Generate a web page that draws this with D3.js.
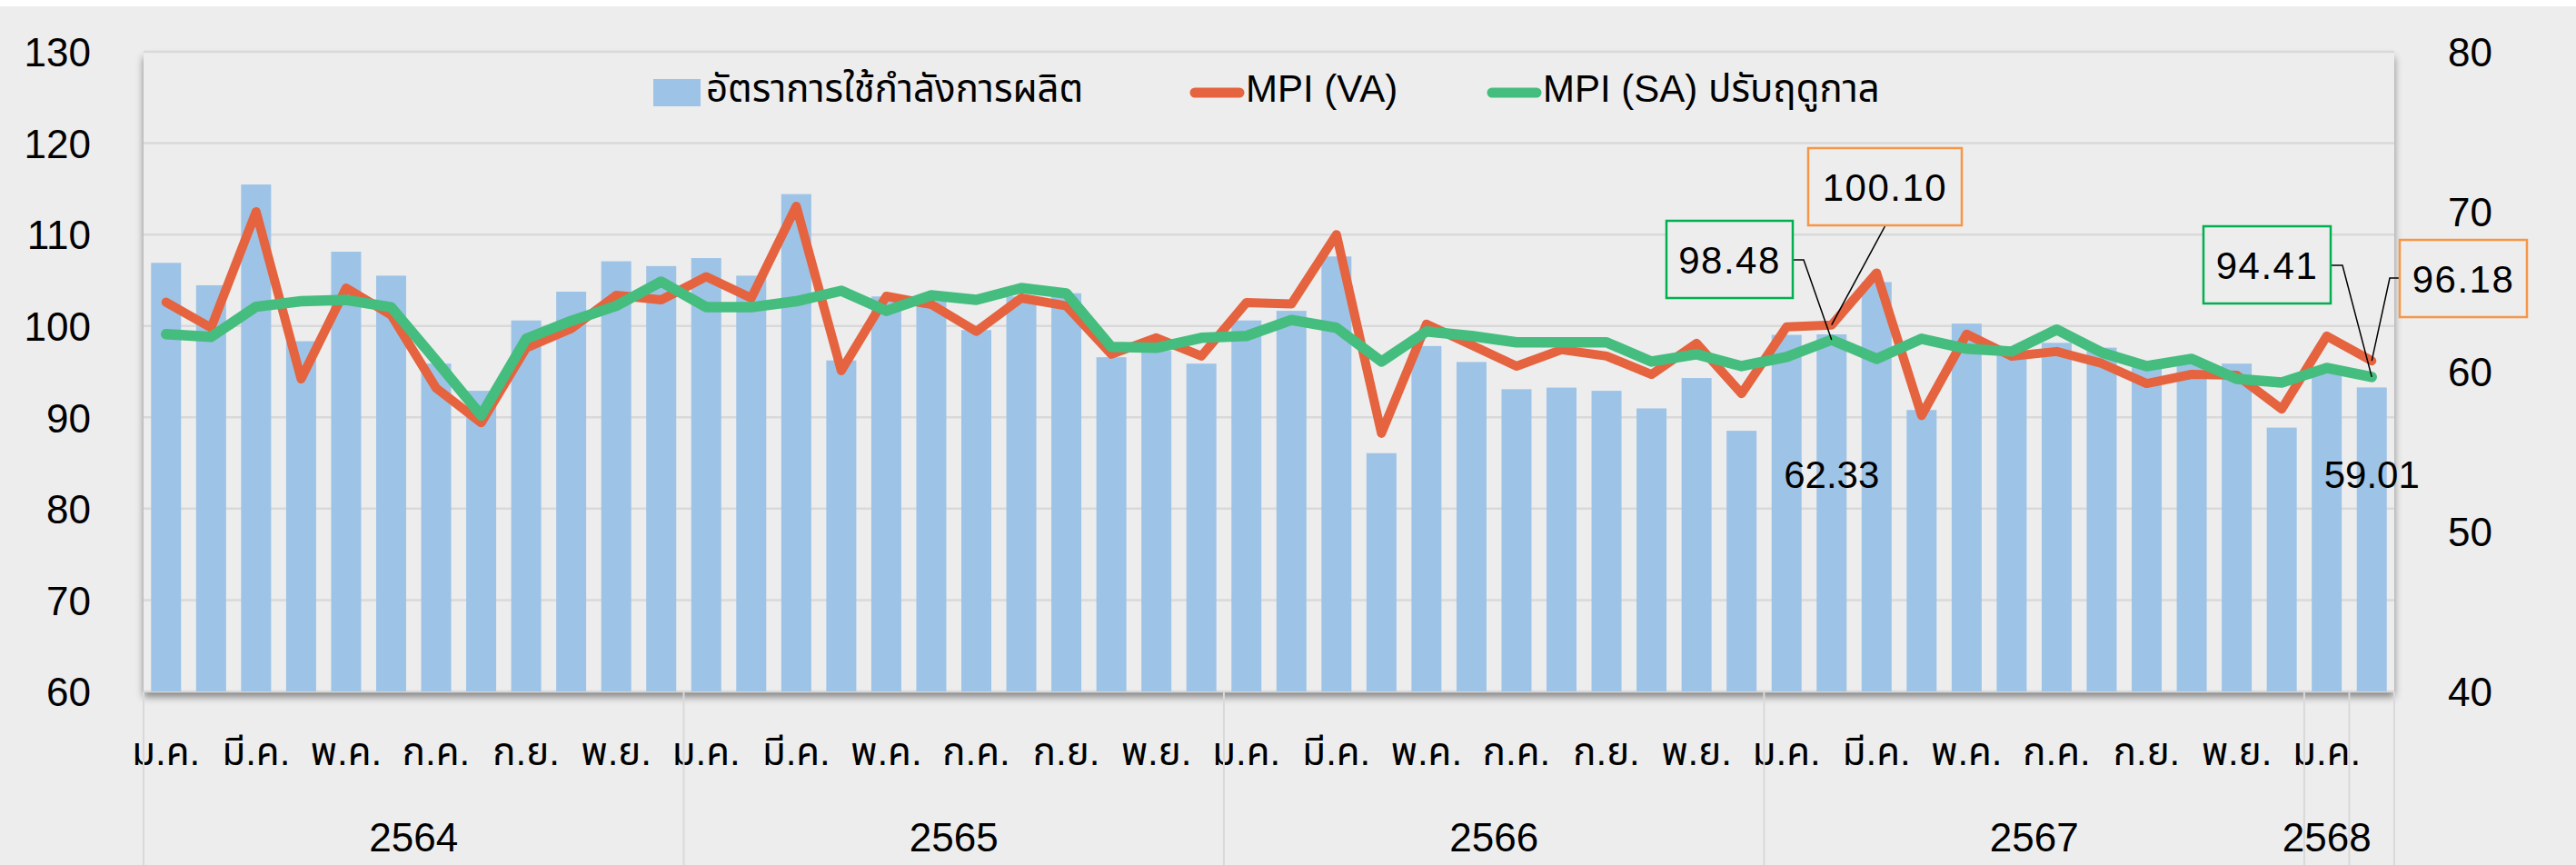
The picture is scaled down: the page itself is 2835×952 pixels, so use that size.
<!DOCTYPE html>
<html>
<head>
<meta charset="utf-8">
<script src="https://cdn.jsdelivr.net/npm/d3@7"></script>
<style>
  body { margin: 0; background: #ffffff; }
  svg text { font-family: "Liberation Sans", "Noto Sans Thai", "Noto Sans", sans-serif; fill: #000; }
</style>
</head>
<body>
<svg id="chart"></svg>
<script>
// month abbreviations (Thai) - only every other one is printed on the axis
const monthNames = ['ม.ค.','ก.พ.','มี.ค.','เม.ย.','พ.ค.','มิ.ย.','ก.ค.','ส.ค.','ก.ย.','ต.ค.','พ.ย.','ธ.ค.'];
const years = ['2564','2565','2566','2567','2568',''];
const yearCounts = [12, 12, 12, 12, 1, 1];

// อัตราการใช้กำลังการผลิต (right axis)
const capacity = [66.8, 65.4, 71.7, 61.9, 67.5, 66.0, 60.5, 58.8, 63.2, 65.0, 66.9, 66.6,
                  67.1, 66.0, 71.1, 60.7, 64.7, 64.4, 62.6, 64.7, 64.9, 60.9, 61.3, 60.5,
                  63.2, 63.8, 67.2, 54.9, 61.6, 60.6, 58.9, 59.0, 58.8, 57.7, 59.6, 56.3,
                  62.3, 62.33, 65.6, 57.6, 63.0, 61.2, 61.8, 61.5, 60.6, 60.7, 60.5, 56.5,
                  60.3, 59.01];
// MPI (VA) (left axis)
const mpiVA = [102.6, 99.8, 112.5, 94.2, 104.15, 101.2, 93.2, 89.4, 97.6, 99.7, 103.35, 102.85,
               105.4, 103.05, 113.1, 95.1, 103.25, 102.35, 99.4, 103.05, 102.2, 96.9, 98.7, 96.7,
               102.55, 102.4, 110.0, 88.25, 100.2, 97.9, 95.6, 97.4, 96.7, 94.7, 98.1, 92.6,
               99.9, 100.10, 105.8, 90.2, 99.1, 96.7, 97.2, 95.9, 93.7, 94.7, 94.6, 90.9,
               98.9, 96.18];
// MPI (SA) ปรับฤดูกาล (left axis)
const mpiSA = [99.1, 98.8, 102.1, 102.7, 102.85, 102.05, 96.2, 90.2, 98.6, 100.55, 102.2, 104.85,
               102.05, 102.05, 102.7, 103.85, 101.65, 103.35, 102.85, 104.15, 103.55, 97.7, 97.6, 98.7,
               98.9, 100.65, 99.8, 96.1, 99.4, 98.9, 98.2, 98.2, 98.2, 96.1, 96.9, 95.6,
               96.6, 98.48, 96.4, 98.6, 97.5, 97.2, 99.6, 97.1, 95.6, 96.4, 94.2, 93.8,
               95.4, 94.41];

const leftTicks = [60, 70, 80, 90, 100, 110, 120, 130];
const rightTicks = [40, 50, 60, 70, 80];

class mpiChart {
    constructor(_config) {
        this.config = {
            parentElement: _config.parentElement,
            containerWidth: _config.containerWidth || 2835,
            containerHeight: _config.containerHeight || 952,
            margin: _config.margin || {top: 57, right: 200, bottom: 191, left: 158}
        };
        this.initVis();
    }

    initVis() {
        let vis = this;
        vis.width = vis.config.containerWidth - vis.config.margin.left - vis.config.margin.right;
        vis.height = vis.config.containerHeight - vis.config.margin.top - vis.config.margin.bottom;

        vis.svg = d3.select(vis.config.parentElement)
            .attr('width', vis.config.containerWidth)
            .attr('height', vis.config.containerHeight);

        // chart background
        vis.svg.append('rect')
            .attr('x', 0).attr('y', 7)
            .attr('width', vis.config.containerWidth)
            .attr('height', vis.config.containerHeight - 7)
            .attr('fill', '#ededed');

        const defs = vis.svg.append('defs');
        const f = defs.append('filter').attr('id', 'plotShadow')
            .attr('x', '-5%').attr('y', '-5%').attr('width', '110%').attr('height', '115%');
        f.append('feDropShadow')
            .attr('dx', 0).attr('dy', 6).attr('stdDeviation', 4)
            .attr('flood-color', '#000').attr('flood-opacity', 0.45);

        vis.chart = vis.svg.append('g')
            .attr('transform', `translate(${vis.config.margin.left},${vis.config.margin.top})`);

        vis.xScale = d3.scaleBand()
            .domain(d3.range(capacity.length))
            .range([0, vis.width])
            .paddingInner(0.334)
            .paddingOuter(0.167);

        vis.yLeft = d3.scaleLinear().domain([60, 130]).range([vis.height, 0]);
        vis.yRight = d3.scaleLinear().domain([40, 80]).range([vis.height, 0]);
    }

    renderVis() {
        let vis = this;
        const h = vis.height, w = vis.width;

        // plot area with shadow
        vis.chart.append('rect')
            .attr('width', w).attr('height', h)
            .attr('fill', '#ededed')
            .attr('filter', 'url(#plotShadow)');

        // gridlines
        vis.chart.append('g')
            .selectAll('line')
            .data(leftTicks)
            .join('line')
            .attr('x1', 0).attr('x2', w)
            .attr('y1', d => vis.yLeft(d)).attr('y2', d => vis.yLeft(d))
            .attr('stroke', '#d9d9d9')
            .attr('stroke-width', 2.5);

        // bars
        vis.chart.append('g')
            .selectAll('rect')
            .data(capacity)
            .join('rect')
            .attr('x', (d, i) => vis.xScale(i))
            .attr('width', vis.xScale.bandwidth())
            .attr('y', d => vis.yRight(d))
            .attr('height', d => h - vis.yRight(d))
            .attr('fill', '#9dc3e6');

        const cx = i => vis.xScale(i) + vis.xScale.bandwidth() / 2;

        const lineGen = d3.line().x((d, i) => cx(i)).y(d => vis.yLeft(d));
        vis.chart.append('path')
            .datum(mpiVA)
            .attr('d', lineGen)
            .attr('fill', 'none')
            .attr('stroke', '#e5633f')
            .attr('stroke-width', 10)
            .attr('stroke-linejoin', 'round')
            .attr('stroke-linecap', 'round');

        vis.chart.append('path')
            .datum(mpiSA)
            .attr('d', lineGen)
            .attr('fill', 'none')
            .attr('stroke', '#45bd7e')
            .attr('stroke-width', 11.5)
            .attr('stroke-linejoin', 'round')
            .attr('stroke-linecap', 'round');

        // left axis
        const leftAxis = d3.axisLeft(vis.yLeft).tickValues(leftTicks).tickSize(0).tickPadding(58);
        vis.chart.append('g').call(leftAxis)
            .call(g => g.select('.domain').remove())
            .selectAll('text')
            .attr('font-size', 44)
            .attr('dy', '0.36em')
            .style('font-family', '"Liberation Sans", sans-serif');

        // right axis
        const rightAxis = d3.axisRight(vis.yRight).tickValues(rightTicks).tickSize(0).tickPadding(59);
        vis.chart.append('g')
            .attr('transform', `translate(${w},0)`)
            .call(rightAxis)
            .call(g => g.select('.domain').remove())
            .selectAll('text')
            .attr('font-size', 44)
            .attr('dy', '0.36em')
            .style('font-family', '"Liberation Sans", sans-serif');

        // category axis: months
        const xAxis = d3.axisBottom(vis.xScale)
            .tickSize(0)
            .tickPadding(0)
            .tickFormat(i => (i % 2 === 0 && i < 49) ? monthNames[i % 12] : '');
        vis.chart.append('g')
            .attr('transform', `translate(0,${h})`)
            .call(xAxis)
            .call(g => g.select('.domain').remove())
            .selectAll('text')
            .attr('y', 81)
            .attr('dy', 0)
            .attr('font-size', 42);

        // year groups + separators
        let start = 0;
        const step = vis.xScale.step();
        const x0 = vis.xScale(0) - vis.xScale.paddingOuter() * step;
        const sep = vis.chart.append('g');
        sep.append('line')
            .attr('x1', 0).attr('x2', 0)
            .attr('y1', h).attr('y2', vis.config.containerHeight)
            .attr('stroke', '#d9d9d9').attr('stroke-width', 2);
        years.forEach((y, k) => {
            const a = x0 + start * step;
            const b = x0 + (start + yearCounts[k]) * step;
            sep.append('line')
                .attr('x1', b).attr('x2', b)
                .attr('y1', h).attr('y2', vis.config.containerHeight)
                .attr('stroke', '#d9d9d9').attr('stroke-width', 2);
            sep.append('text')
                .attr('x', (a + b) / 2)
                .attr('y', 880)
                .attr('text-anchor', 'middle')
                .attr('font-size', 44)
                .text(y);
            start += yearCounts[k];
        });

        // bar value labels (same height for both, like the original)
        [37, 49].forEach(i => {
            vis.chart.append('text')
                .attr('x', cx(i))
                .attr('y', 480)
                .attr('text-anchor', 'middle')
                .attr('font-size', 42)
                .text(capacity[i].toFixed(2));
        });

        // callout boxes with leader lines (box positions in page coords)
        const callouts = [
            {i: 37, v: mpiVA[37], box: [1990, 163, 169, 85], color: '#f79646', elbow: null, from: [2075, 248]},
            {i: 37, v: mpiSA[37], box: [1834, 243, 139, 85], color: '#00b050', elbow: [1985, 286], from: [1973, 286]},
            {i: 49, v: mpiSA[49], box: [2425, 249, 140, 85], color: '#00b050', elbow: [2578, 292], from: [2565, 292]},
            {i: 49, v: mpiVA[49], box: [2641, 264, 140, 85], color: '#f79646', elbow: [2630, 306], from: [2641, 306]}
        ];
        const ml = vis.config.margin.left, mt = vis.config.margin.top;
        const ann = vis.svg.append('g');
        callouts.forEach(c => {
            const px = ml + cx(c.i), py = mt + vis.yLeft(c.v);
            const pts = [c.from];
            if (c.elbow) pts.push(c.elbow);
            pts.push([px, py]);
            ann.append('path')
                .attr('d', d3.line()(pts))
                .attr('fill', 'none')
                .attr('stroke', '#000')
                .attr('stroke-width', 1.5);
            ann.append('rect')
                .attr('x', c.box[0]).attr('y', c.box[1])
                .attr('width', c.box[2]).attr('height', c.box[3])
                .attr('fill', '#ededed')
                .attr('stroke', c.color)
                .attr('stroke-width', 2.5);
            ann.append('text')
                .attr('x', c.box[0] + c.box[2] / 2)
                .attr('y', c.box[1] + c.box[3] / 2)
                .attr('dy', '0.36em')
                .attr('text-anchor', 'middle')
                .attr('font-size', 42)
                .attr('letter-spacing', 1.5)
                .text(c.v.toFixed(2));
        });

        // legend
        const lg = vis.svg.append('g');
        lg.append('rect').attr('x', 719).attr('y', 87).attr('width', 52).attr('height', 30).attr('fill', '#9dc3e6');
        lg.append('text').attr('x', 777).attr('y', 112).attr('font-size', 42).text('อัตราการใช้กำลังการผลิต');
        lg.append('line').attr('x1', 1315).attr('x2', 1364).attr('y1', 102).attr('y2', 102)
            .attr('stroke', '#e5633f').attr('stroke-width', 11).attr('stroke-linecap', 'round');
        lg.append('text').attr('x', 1371).attr('y', 112).attr('font-size', 42).text('MPI (VA)');
        lg.append('line').attr('x1', 1642).attr('x2', 1691).attr('y1', 102).attr('y2', 102)
            .attr('stroke', '#45bd7e').attr('stroke-width', 11).attr('stroke-linecap', 'round');
        lg.append('text').attr('x', 1698).attr('y', 112).attr('font-size', 42).text('MPI (SA) ปรับฤดูกาล');
    }
}

const chart = new mpiChart({parentElement: '#chart'});
chart.renderVis();
</script>
</body>
</html>
